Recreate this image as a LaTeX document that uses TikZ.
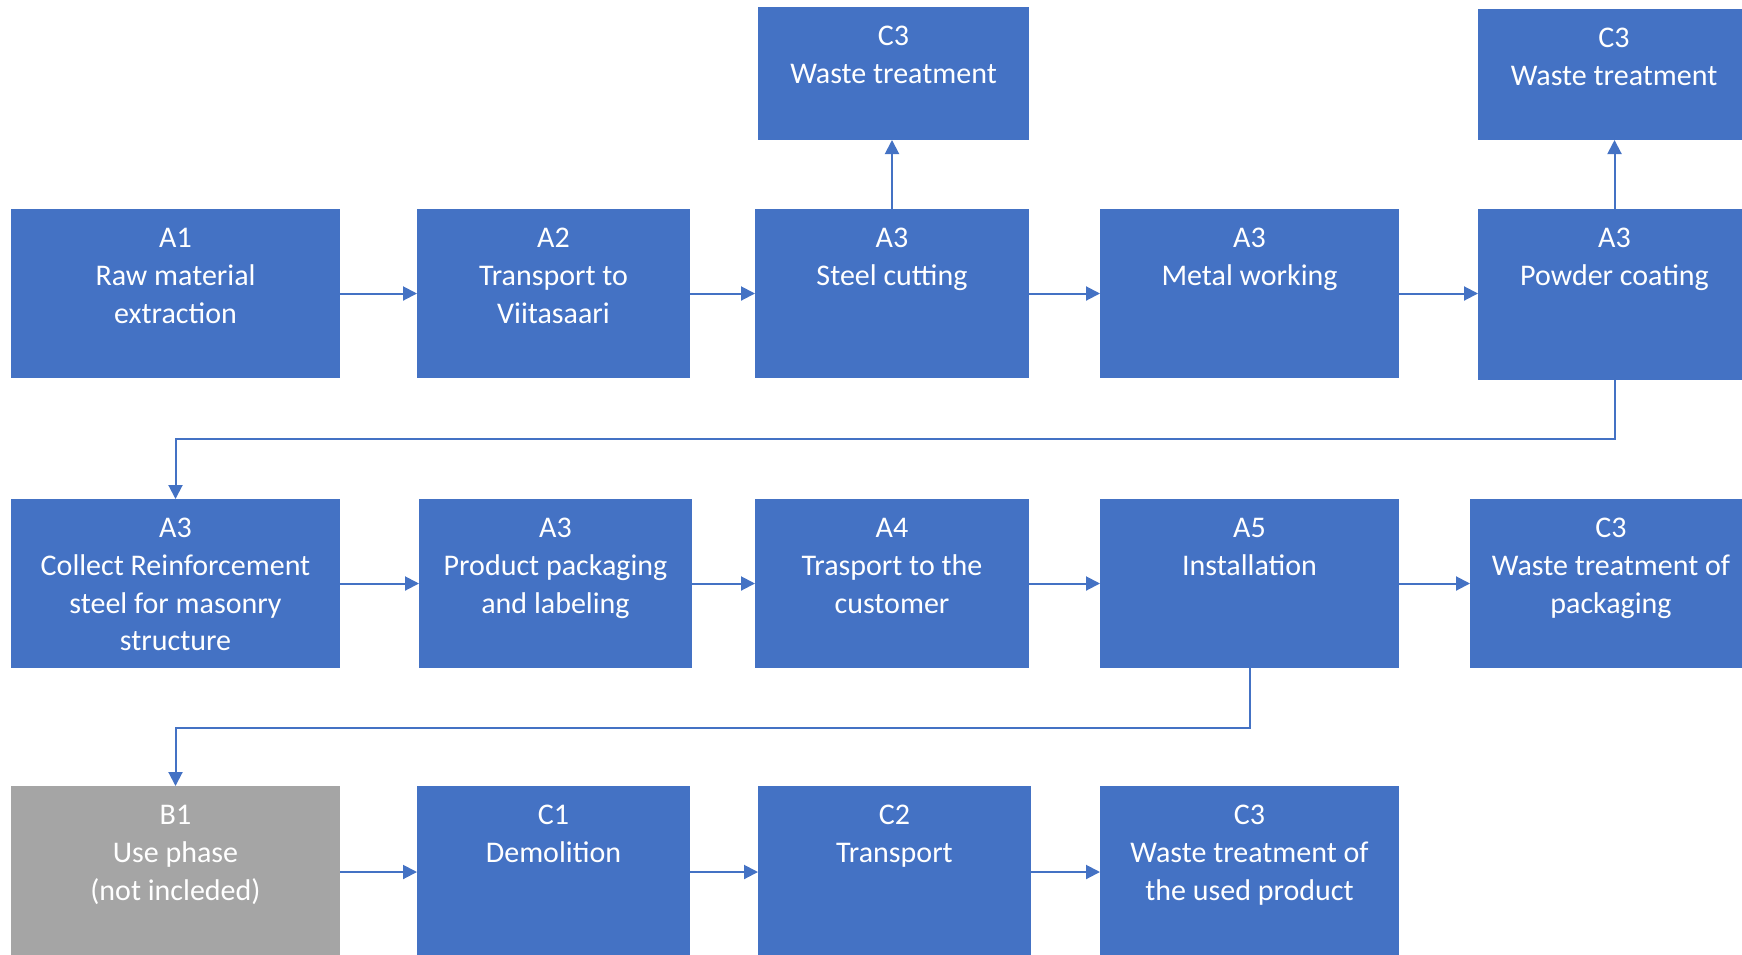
\documentclass[tikz,border=0pt]{standalone}
\usepackage{fontspec}
\setmainfont{Carlito}
\usetikzlibrary{arrows.meta}
\definecolor{boxblue}{HTML}{4472C4}
\definecolor{boxgray}{HTML}{A5A5A5}
\definecolor{linkblue}{HTML}{4472C4}
% fixed-size box contents: width, height, lines (top aligned)
\newcommand{\stagetext}[3]{\parbox[c][#2pt][t]{#1pt}{\centering\rule{0pt}{38.5pt}#3\par}}
\begin{document}
\begin{tikzpicture}[x=1pt,y=-1pt,
  stagebox/.style={fill=boxblue,text=white,inner sep=0pt,outer sep=0pt,anchor=north west,
                   font=\fontsize{30}{37.8}\selectfont},
  usebox/.style={stagebox,fill=boxgray},
  flow/.style={draw=linkblue,line width=2pt,-{Triangle[length=14pt,width=14pt]}}]
\useasboundingbox (0,0) rectangle (1742,954);
\clip (0,0) rectangle (1742,954);

% production stages
\node[stagebox] (a1) at (11,209) {\stagetext{329}{169}{A1\\Raw material\\extraction}};
\node[stagebox] (a2) at (417,209) {\stagetext{273}{169}{A2\\Transport to\\Viitasaari}};
\node[stagebox] (cut) at (755,209) {\stagetext{274}{169}{A3\\Steel cutting}};
\node[stagebox] (metal) at (1100,209) {\stagetext{299}{169}{A3\\Metal working}};
\node[stagebox] (powder) at (1478,209) {\stagetext{273}{171}{A3\\Powder coating}};
\node[stagebox] (wt1) at (758,7) {\stagetext{271}{133}{C3\\Waste treatment}};
\node[stagebox] (wt2) at (1478,9) {\stagetext{272}{131}{C3\\Waste treatment}};

% delivery stages
\node[stagebox] (collect) at (11,499) {\stagetext{329}{169}{A3\\Collect Reinforcement\\steel for masonry\\structure}};
\node[stagebox] (pack) at (419,499) {\stagetext{273}{169}{A3\\Product packaging\\and labeling}};
\node[stagebox] (a4) at (755,499) {\stagetext{274}{169}{A4\\Trasport to the\\customer}};
\node[stagebox] (a5) at (1100,499) {\stagetext{299}{169}{A5\\Installation}};
\node[stagebox] (wpack) at (1470,499) {\stagetext{282}{169}{C3\\Waste treatment of\\packaging}};

% use and end of life
\node[usebox] (b1) at (11,786) {\stagetext{329}{172}{B1\\Use phase\\(not incleded)}};
\node[stagebox] (c1) at (417,786) {\stagetext{273}{172}{C1\\Demolition}};
\node[stagebox] (c2) at (758,786) {\stagetext{273}{172}{C2\\Transport}};
\node[stagebox] (c3) at (1100,786) {\stagetext{299}{172}{C3\\Waste treatment of\\the used product}};

\coordinate (bend1) at (0,439);
\coordinate (bend2) at (0,728);

% connectors
\draw[flow] (a1.east) -- (a2.west);
\draw[flow] (a2.east) -- (cut.west);
\draw[flow] (cut.east) -- (metal.west);
\draw[flow] (metal.east) -- (metal.east -| powder.west);
\draw[flow] (cut.north) -- (cut.north |- wt1.south);
\draw[flow] (powder.north) -- (powder.north |- wt2.south);
\draw[flow] (powder.south) |- (collect.north |- bend1) -- (collect.north);

\draw[flow] (collect.east) -- (pack.west);
\draw[flow] (pack.east) -- (a4.west);
\draw[flow] (a4.east) -- (a5.west);
\draw[flow] (a5.east) -- (wpack.west);
\draw[flow] (a5.south) |- (b1.north |- bend2) -- (b1.north);

\draw[flow] (b1.east) -- (c1.west);
\draw[flow] (c1.east) -- (c2.west);
\draw[flow] (c2.east) -- (c3.west);
\end{tikzpicture}
\end{document}
